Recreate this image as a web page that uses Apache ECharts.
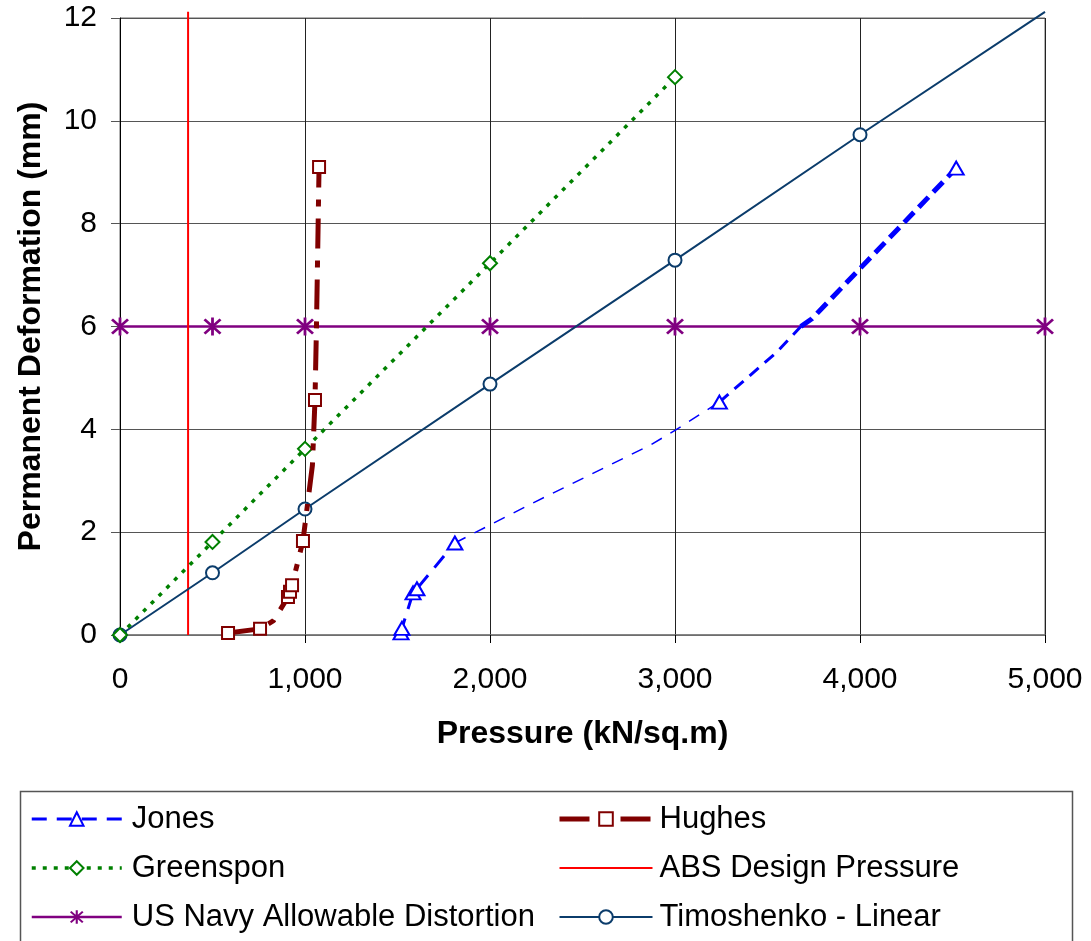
<!DOCTYPE html>
<html>
<head>
<meta charset="utf-8">
<script src="https://cdn.jsdelivr.net/npm/echarts@6/dist/echarts.min.js"></script>
<style>html,body{margin:0;padding:0;background:#fff;}#c{width:1091px;height:941px;}</style>
</head>
<body>
<div id="c"></div>
<script>
// ---- data ----
const xTicks = [0, 1000, 2000, 3000, 4000, 5000];
const yTicks = [0, 2, 4, 6, 8, 10, 12];
const jonesLower = [[1519, 0.04], [1524, 0.13], [1584, 0.82], [1605, 0.9], [1810, 1.79]];
const jonesMiddle = [[1810, 1.79], [2250, 2.6], [2870, 3.7], [3000, 3.98], [3240, 4.53]];
const jonesUpper = [[3240, 4.53], [3550, 5.5], [3680, 6.0]];
const jonesTop = [[3680, 6.0], [3740, 6.15], [4520, 9.08]];
const jonesMarkedX = [1519, 1524, 1584, 1605, 1810, 3240, 4520];
const hughes = [[584, 0.04], [757, 0.12], [830, 0.28], [908, 0.74], [919, 0.84], [930, 0.97], [989, 1.83], [1040, 3.3], [1054, 4.57], [1062, 6.0], [1076, 9.1]];
const hughesMarkedX = [584, 757, 908, 919, 930, 989, 1054, 1076];
const greenspon = [[0, 0], [500, 1.81], [1000, 3.62], [2000, 7.23], [3000, 10.85]];
const absPressure = [[368, 0], [368, 12.12]];
const usNavy = [[0, 6], [500, 6], [1000, 6], [2000, 6], [3000, 6], [4000, 6], [5000, 6]];
const timoshenko = [[0, 0], [500, 1.21], [1000, 2.45], [2000, 4.88], [3000, 7.29], [4000, 9.73], [5000, 12.12]];
const timoshenkoMarkedX = [0, 500, 1000, 2000, 3000, 4000];

const FONT = "'Liberation Sans', Arial, sans-serif";
const asterisk = 'path://M8.6,0 L11.4,0 L11.4,20 L8.6,20 Z M3.0,1.0 L19.0,17.0 L17.0,19.0 L1.0,3.0 Z M19.0,3.0 L3.0,19.0 L1.0,17.0 L17.0,1.0 Z';

function marked(points, xs) {
  return points.map(p => xs.indexOf(p[0]) >= 0 ? p : { value: p, symbol: 'none' });
}
function fmt(v) { return v.toLocaleString('en-US'); }

const chart = echarts.init(document.getElementById('c'), null, { renderer: 'canvas' });

const jonesSym = { symbol: 'emptyTriangle', symbolSize: [15, 13], itemStyle: { color: '#0000FF', borderWidth: 2 } };
const legendText = { fontSize: 31, lineHeight: 32, color: '#000', fontFamily: FONT };

chart.setOption({
  animation: false,
  backgroundColor: '#fff',
  textStyle: { fontFamily: FONT },
  grid: { left: 120, right: 46, top: 18, bottom: 306, show: true, borderColor: '#666', borderWidth: 1, backgroundColor: 'transparent' },
  xAxis: {
    type: 'value', min: 0, max: 5000, interval: 1000,
    name: 'Pressure (kN/sq.m)', nameLocation: 'middle', nameGap: 83,
    nameTextStyle: { fontSize: 32, fontWeight: 'bold', color: '#000', fontFamily: FONT },
    axisLine: { show: true, onZero: false, lineStyle: { color: '#777', width: 1.5 } },
    axisTick: { show: true, inside: false, length: 8, lineStyle: { color: '#000' } },
    axisLabel: { margin: 30, fontSize: 30, color: '#000', fontFamily: FONT, formatter: v => xTicks.indexOf(v) >= 0 ? fmt(v) : '' },
    splitLine: { show: true, lineStyle: { color: '#222', width: 1 } }
  },
  yAxis: {
    type: 'value', min: 0, max: 12, interval: 2,
    name: 'Permanent Deformation (mm)', nameLocation: 'middle', nameGap: 73, nameRotate: 90,
    nameTextStyle: { fontSize: 32, fontWeight: 'bold', color: '#000', fontFamily: FONT },
    axisLine: { show: true, onZero: false, lineStyle: { color: '#000', width: 1 } },
    axisTick: { show: true, inside: false, length: 9, lineStyle: { color: '#555' } },
    axisLabel: { margin: 23, fontSize: 30, color: '#000', fontFamily: FONT, formatter: v => yTicks.indexOf(v) >= 0 ? String(v) : '' },
    splitLine: { show: true, lineStyle: { color: '#555', width: 1.2 } }
  },
  legend: [
    {
      left: 30, top: 803, orient: 'vertical', padding: 0, itemGap: 17, itemWidth: 90, itemHeight: 17,
      selectedMode: false,
      lineStyle: { width: 'inherit' },
      textStyle: Object.assign({ padding: [0, 0, 0, 5] }, legendText),
      data: ['Jones', 'Greenspon', 'US Navy Allowable Distortion']
    },
    {
      left: 557, top: 803, orient: 'vertical', padding: 0, itemGap: 17, itemWidth: 93, itemHeight: 17,
      selectedMode: false,
      lineStyle: { width: 'inherit' },
      textStyle: Object.assign({ padding: [0, 0, 0, 2] }, legendText),
      data: ['Hughes', { name: 'ABS Design Pressure', itemStyle: { opacity: 0 } }, 'Timoshenko - Linear']
    }
  ],
  graphic: [{
    type: 'rect', left: 18, top: 789, z: -1,
    shape: { width: 1052, height: 200 },
    style: { fill: 'none', stroke: '#555', lineWidth: 1.5 }
  }],
  series: [
    {
      name: 'US Navy Allowable Distortion', type: 'line', data: usNavy,
      symbol: asterisk, symbolSize: 18,
      lineStyle: { color: '#800080', width: 2.5 },
      itemStyle: { color: '#800080', borderWidth: 0 }, z: 3
    },
    {
      name: 'ABS Design Pressure', type: 'line', data: absPressure, clip: false,
      symbol: 'none', lineStyle: { color: '#FF0000', width: 2 }, itemStyle: { color: '#FF0000' }, z: 3
    },
    {
      name: 'Timoshenko - Linear', type: 'line', data: marked(timoshenko, timoshenkoMarkedX), clip: false,
      symbol: 'emptyCircle', symbolSize: 13,
      lineStyle: { color: '#0B3C6B', width: 2 },
      itemStyle: { color: '#0B3C6B', borderWidth: 2 }, z: 4
    },
    {
      name: 'Greenspon', type: 'line', data: greenspon,
      symbol: 'emptyDiamond', symbolSize: 14,
      lineStyle: { color: '#008000', width: 3.5, type: [4, 7] },
      itemStyle: { color: '#008000', borderWidth: 2 }, z: 5
    },
    Object.assign({
      name: 'Jones', type: 'line', data: marked(jonesLower, jonesMarkedX),
      lineStyle: { color: '#0000FF', width: 3, type: [15, 10] }, z: 6
    }, jonesSym),
    {
      name: 'Jones-mid', type: 'line', data: jonesMiddle, symbol: 'none',
      lineStyle: { color: '#0000FF', width: 1.5, type: [12, 10] }, z: 5
    },
    Object.assign({
      name: 'Jones-upper', type: 'line', data: marked(jonesUpper, jonesMarkedX),
      lineStyle: { color: '#0000FF', width: 3, type: [12, 8] }, z: 6
    }, jonesSym),
    Object.assign({
      name: 'Jones-top', type: 'line', data: marked(jonesTop, jonesMarkedX),
      lineStyle: { color: '#0000FF', width: 5, type: [14, 7] }, z: 6
    }, jonesSym),
    {
      name: 'Hughes', type: 'line', data: marked(hughes, hughesMarkedX),
      symbol: 'emptyRect', symbolSize: 12,
      lineStyle: { color: '#800000', width: 5, type: [30, 12, 7, 12] },
      itemStyle: { color: '#800000', borderWidth: 2 }, z: 7
    }
  ]
});
</script>
</body>
</html>
